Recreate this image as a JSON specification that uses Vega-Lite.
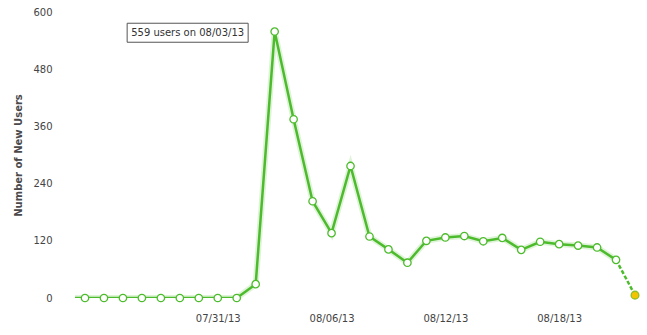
{
  "$schema": "https://vega.github.io/schema/vega-lite/v6.json",
  "width": 572,
  "height": 286,
  "autosize": {"type": "none"},
  "padding": {"left": 75, "top": 12, "right": 0, "bottom": 37},
  "background": "white",
  "config": {"view": {"stroke": null}, "font": "DejaVu Sans"},
  "data": {
    "values": [
      {"date": "2013-07-23", "users": 0},
      {"date": "2013-07-24", "users": 0},
      {"date": "2013-07-25", "users": 0},
      {"date": "2013-07-26", "users": 0},
      {"date": "2013-07-27", "users": 0},
      {"date": "2013-07-28", "users": 0},
      {"date": "2013-07-29", "users": 0},
      {"date": "2013-07-30", "users": 0},
      {"date": "2013-07-31", "users": 0},
      {"date": "2013-08-01", "users": 0},
      {"date": "2013-08-02", "users": 29},
      {"date": "2013-08-03", "users": 559, "note": "559 users on 08/03/13"},
      {"date": "2013-08-04", "users": 375},
      {"date": "2013-08-05", "users": 203},
      {"date": "2013-08-06", "users": 136},
      {"date": "2013-08-07", "users": 277},
      {"date": "2013-08-08", "users": 129},
      {"date": "2013-08-09", "users": 102},
      {"date": "2013-08-10", "users": 74},
      {"date": "2013-08-11", "users": 120},
      {"date": "2013-08-12", "users": 127},
      {"date": "2013-08-13", "users": 130},
      {"date": "2013-08-14", "users": 119},
      {"date": "2013-08-15", "users": 126},
      {"date": "2013-08-16", "users": 101},
      {"date": "2013-08-17", "users": 118},
      {"date": "2013-08-18", "users": 113},
      {"date": "2013-08-19", "users": 110},
      {"date": "2013-08-20", "users": 106},
      {"date": "2013-08-21", "users": 80},
      {"date": "2013-08-22", "users": 6, "partial": true}
    ]
  },
  "encoding": {
    "x": {
      "field": "date",
      "type": "temporal",
      "scale": {
        "type": "utc",
        "domain": [
          {"year": 2013, "month": 7, "date": 23, "hours": 11, "minutes": 21, "utc": true},
          {"year": 2013, "month": 8, "date": 22, "hours": 15, "minutes": 11, "utc": true}
        ]
      },
      "axis": {
        "title": null,
        "values": [
          {"year": 2013, "month": 7, "date": 31, "utc": true},
          {"year": 2013, "month": 8, "date": 6, "utc": true},
          {"year": 2013, "month": 8, "date": 12, "utc": true},
          {"year": 2013, "month": 8, "date": 18, "utc": true}
        ],
        "labelExpr": "utcFormat(datum.value, '%m/%d/%y')",
        "grid": false,
        "domain": false,
        "ticks": false,
        "labelPadding": 15,
        "labelFontSize": 10,
        "labelColor": "#444444",
        "labelFont": "DejaVu Sans"
      }
    },
    "y": {
      "field": "users",
      "type": "quantitative",
      "scale": {"domain": [0, 600], "nice": false},
      "axis": {
        "title": "Number of New Users",
        "values": [0, 120, 240, 360, 480, 600],
        "grid": false,
        "domain": false,
        "ticks": false,
        "labelPadding": 23,
        "labelFontSize": 10,
        "labelColor": "#444444",
        "labelFont": "DejaVu Sans",
        "titleFont": "DejaVu Sans",
        "titleFontSize": 10,
        "titleFontWeight": "bold",
        "titleColor": "#4a4a4a",
        "titleX": -57,
        "titleY": 143,
        "titleAngle": -90,
        "titleAlign": "center",
        "titleBaseline": "middle"
      }
    }
  },
  "layer": [
    {
      "transform": [{"filter": "time(datum.date) <= utc(2013, 7, 21)"}],
      "mark": {"type": "line", "color": "#4cbb2c", "strokeWidth": 6, "opacity": 0.18, "clip": true}
    },
    {
      "transform": [{"filter": "time(datum.date) <= utc(2013, 7, 21)"}],
      "mark": {"type": "line", "color": "#4cbb2c", "strokeWidth": 2.5, "clip": true}
    },
    {
      "transform": [{"filter": "time(datum.date) >= utc(2013, 7, 21)"}],
      "mark": {"type": "line", "color": "#4cbb2c", "strokeWidth": 2.5, "strokeDash": [4, 2], "clip": true}
    },
    {
      "transform": [{"filter": "time(datum.date) >= utc(2013, 6, 24) && !datum.partial"}],
      "mark": {"type": "point", "shape": "circle", "filled": true, "fill": "white", "stroke": "#4cbb2c", "strokeWidth": 1.3, "size": 55, "opacity": 1}
    },
    {
      "transform": [{"filter": "datum.partial"}],
      "mark": {"type": "point", "shape": "circle", "filled": true, "fill": "#f5c400", "stroke": "#8cbf2a", "strokeWidth": 1.3, "size": 60, "opacity": 1}
    },
    {
      "transform": [{"filter": "datum.note"}],
      "mark": {"type": "point", "shape": "M-1,-0.157L1,-0.157L1,0.157L-1,0.157Z", "size": 14641, "filled": true, "fill": "white", "stroke": "#555555", "strokeWidth": 1, "opacity": 1, "xOffset": -87, "yOffset": 1.2}
    },
    {
      "transform": [{"filter": "datum.note"}],
      "mark": {"type": "text", "font": "DejaVu Sans", "fontSize": 10, "color": "#333333", "align": "center", "baseline": "middle", "dx": -87, "dy": 1.5},
      "encoding": {"text": {"field": "note"}}
    }
  ]
}
